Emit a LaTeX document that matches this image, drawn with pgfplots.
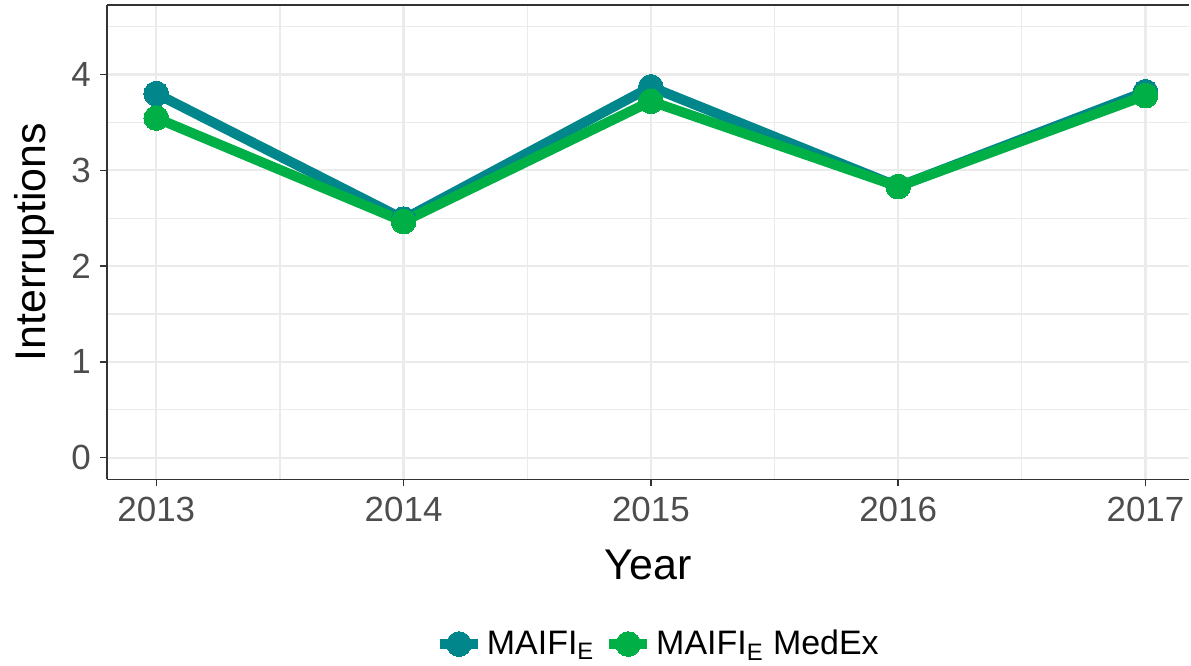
\documentclass[border=0pt]{standalone}
\usepackage{pgfplots}
\pgfplotsset{compat=1.18}
\usepackage{fontspec}
\setmainfont{Liberation Sans}
\definecolor{teal1}{HTML}{00868B}
\definecolor{green1}{HTML}{00B046}
\definecolor{gridc}{HTML}{EBEBEB}
\definecolor{tickc}{HTML}{4D4D4D}
\definecolor{axc}{HTML}{333333}
\begin{document}
\begin{tikzpicture}
\begin{axis}[
  scale only axis,
  width=542pt, height=237.5pt,
  xmin=2012.8, xmax=2017.177,
  ymin=-0.225, ymax=4.725,
  axis x line=box, axis y line=left,
  axis line style={color=axc, line width=0.75pt, -},
  xtick={2013,2014,2015,2016,2017},
  ytick={0,1,2,3,4},
  minor xtick={2013.5,2014.5,2015.5,2016.5},
  minor ytick={0.5,1.5,2.5,3.5,4.5},
  xtick pos=bottom, ytick pos=left,
  tick align=outside,
  major tick length=3.5pt, minor tick length=0pt,
  tick style={color=axc, line width=0.75pt},
  grid=both,
  major grid style={color=gridc, line width=1.1pt},
  minor grid style={color=gridc, line width=0.6pt},
  /pgf/number format/assume math mode=true,
  /pgf/number format/1000 sep={},
  ticklabel style={font=\fontsize{17.5}{20}\selectfont, text=tickc},
  xticklabel style={yshift=-2pt},
  yticklabel style={xshift=-1pt},
  xlabel={Year}, ylabel={Interruptions},
  label style={font=\fontsize{21.5}{24}\selectfont},
  xlabel style={yshift=-7pt},
  ylabel style={yshift=1.5pt},
  legend columns=2,
  legend style={draw=none, fill=none, at={(0.51,0)}, anchor=center, yshift=-82.5pt,
    font=\fontsize{17}{20}\selectfont,
    /tikz/every even column/.append style={column sep=3pt}},
  legend image code/.code={\draw[mark repeat=2,mark phase=2,#1] plot coordinates {(0pt,0pt) (9.5pt,0pt) (19pt,0pt)};},
  clip=false,
]
\addplot[teal1, line width=5pt, mark=*, mark size=6.2pt, mark options={line width=0pt}] coordinates {
  (2013,3.80) (2014,2.49) (2015,3.87) (2016,2.83) (2017,3.82)};
\addlegendentry{MAIFI\textsubscript{E}}
\addplot[green1, line width=5pt, mark=*, mark size=6.2pt, mark options={line width=0pt}] coordinates {
  (2013,3.545) (2014,2.465) (2015,3.72) (2016,2.83) (2017,3.78)};
\addlegendentry{MAIFI\textsubscript{E} MedEx}
\end{axis}
\path (current axis.south west) ++(-53.5pt,-92.5pt) coordinate (bl);
\path (current axis.north east) ++(0,2.5pt) coordinate (tr);
\path (bl) rectangle (tr);
\end{tikzpicture}
\end{document}
